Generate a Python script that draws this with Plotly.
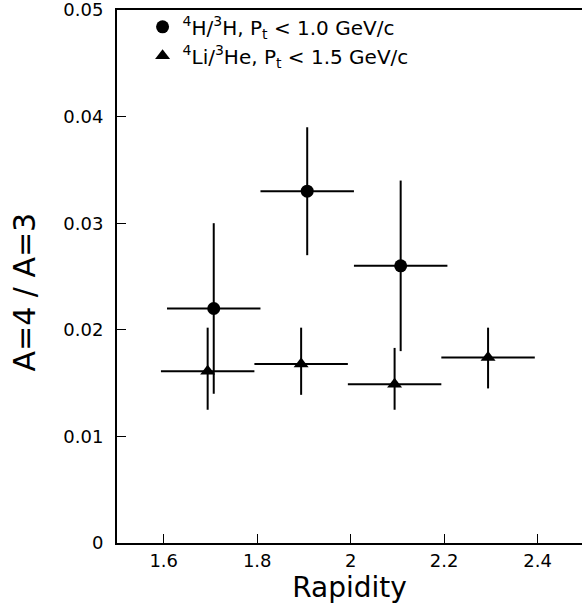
import plotly.graph_objects as go

# Data
h_x = [1.707, 1.907, 2.107]
h_y = [0.022, 0.033, 0.026]
h_ex = [0.1, 0.1, 0.1]
h_ey_plus = [0.008, 0.006, 0.008]
h_ey_minus = [0.008, 0.006, 0.008]

li_x = [1.694, 1.894, 2.094, 2.294]
li_y = [0.0161, 0.0168, 0.0149, 0.0174]
li_ex = [0.1, 0.1, 0.1, 0.1]
li_ey_plus = [0.0041, 0.0034, 0.0034, 0.0028]
li_ey_minus = [0.0036, 0.0029, 0.0024, 0.0029]

x_ticks = [1.6, 1.8, 2.0, 2.2, 2.4]
x_ticktext = ["1.6", "1.8", "2", "2.2", "2.4"]
y_ticks = [0, 0.01, 0.02, 0.03, 0.04, 0.05]
y_ticktext = ["0", "0.01", "0.02", "0.03", "0.04", "0.05"]

FONT = "DejaVu Sans"

fig = go.Figure()

def err(plus, minus):
    return dict(type="data", symmetric=False, array=plus, arrayminus=minus,
                color="black", thickness=2, width=0)

fig.add_trace(go.Scatter(
    x=h_x, y=h_y, mode="markers",
    name="<sup>4</sup>H/<sup>3</sup>H, P<sub>t</sub> &lt; 1.0 GeV/c",
    marker=dict(symbol="circle", size=13, color="black"),
    error_x=dict(type="data", array=h_ex, color="black", thickness=2, width=0),
    error_y=err(h_ey_plus, h_ey_minus),
))
fig.add_trace(go.Scatter(
    x=li_x, y=li_y, mode="markers",
    name="<sup>4</sup>Li/<sup>3</sup>He, P<sub>t</sub> &lt; 1.5 GeV/c",
    marker=dict(symbol="triangle-up", size=13, color="black"),
    error_x=dict(type="data", array=li_ex, color="black", thickness=2, width=0),
    error_y=err(li_ey_plus, li_ey_minus),
))

fig.update_layout(
    width=582, height=610,
    margin=dict(l=117, r=0, t=10, b=67),
    plot_bgcolor="white", paper_bgcolor="white",
    font=dict(family=FONT, color="black", size=20),
    showlegend=True,
    legend=dict(x=0.055, y=1.005, xanchor="left", yanchor="top",
                bgcolor="rgba(0,0,0,0)", font=dict(size=20, family=FONT),
                tracegroupgap=0),
    annotations=[dict(
        text="A=4 / A=3", textangle=-90,
        xref="paper", yref="paper", x=-0.2, y=0.47,
        xanchor="center", yanchor="middle", showarrow=False,
        font=dict(size=30, family=FONT, color="black"),
    )],
)
fig.update_xaxes(
    range=[1.5, 2.495], tickvals=x_ticks, ticktext=x_ticktext,
    ticks="inside", ticklen=9, tickwidth=1, tickcolor="black",
    showline=True, linecolor="black", linewidth=2, mirror=True,
    showgrid=False, zeroline=False,
    tickfont=dict(size=18),
    title=dict(text="Rapidity", font=dict(size=28), standoff=4),
)
fig.update_yaxes(
    range=[0, 0.05], tickvals=y_ticks, ticktext=y_ticktext,
    ticks="inside", ticklen=9, tickwidth=1, tickcolor="black",
    showline=True, linecolor="black", linewidth=2, mirror=False,
    showgrid=False, zeroline=False,
    tickfont=dict(size=18), ticklabelstandoff=8,
    ticklabeloverflow="allow",
)

fig.write_html("out.html")
